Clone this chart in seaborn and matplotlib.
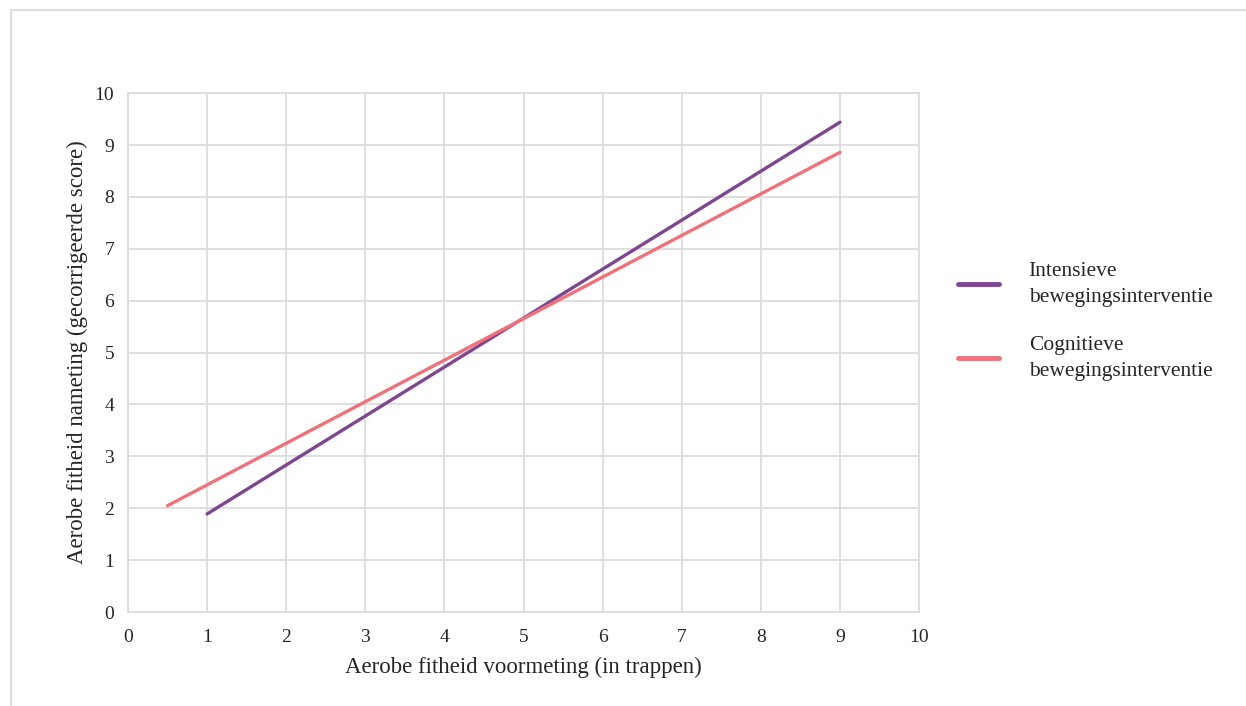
import pandas as pd
import matplotlib
matplotlib.use("Agg")
import matplotlib.pyplot as plt
from matplotlib.lines import Line2D
import seaborn as sns

# ===============================
# DATA
# ===============================
groups = ["Intensieve\nbewegingsinterventie", "Cognitieve\nbewegingsinterventie"]
x_intensief = [1, 9]
y_intensief = [1.89, 9.44]
x_cognitief = [0.5, 9]
y_cognitief = [2.05, 8.86]
colors = ["#7f4690", "#ef727a"]

df = pd.concat([
    pd.DataFrame({"voor": x_intensief, "na": y_intensief, "groep": groups[0]}),
    pd.DataFrame({"voor": x_cognitief, "na": y_cognitief, "groep": groups[1]}),
])

# ===============================
# PLOT
# ===============================
sns.set_style("white")
plt.rcParams["font.family"] = ["Liberation Serif", "DejaVu Serif"]

fig = plt.figure(figsize=(12.46, 7.06), dpi=100)
ax = fig.add_axes([0.1027, 0.1331, 0.635, 0.735])

sns.lineplot(data=df, x="voor", y="na", hue="groep", palette=colors,
             linewidth=2.4, ax=ax, legend=False)

ax.set_xlim(0, 10)
ax.set_ylim(0, 10)
ax.set_xticks(range(0, 11))
ax.set_yticks(range(0, 11))
ax.grid(True, color="#dcdcdc", linewidth=1.3)
ax.set_axisbelow(True)
for s in ax.spines.values():
    s.set_color("#dcdcdc")
    s.set_linewidth(1.3)
ax.tick_params(axis="x", length=0, labelsize=14, pad=12)
ax.tick_params(axis="y", length=0, labelsize=14, pad=10)
ax.set_xlabel("Aerobe fitheid voormeting (in trappen)", fontsize=16.5, labelpad=8)
ax.set_ylabel("Aerobe fitheid nameting (gecorrigeerde score)", fontsize=16.5, labelpad=5)

handles = [Line2D([], [], color=c, linewidth=3.5) for c in colors]
leg = fig.legend(handles, groups, loc="center left", bbox_to_anchor=(0.753, 0.545),
                 frameon=False, fontsize=15.5, handlelength=1.9, handletextpad=1.4,
                 labelspacing=1.35)
for t in leg.get_texts():
    t.set_linespacing(1.5)

# grijze rand links en boven
fig.add_artist(Line2D([0.0085, 0.0085], [0, 0.986], transform=fig.transFigure,
                      color="#dedede", linewidth=1.5))
fig.add_artist(Line2D([0.0085, 1], [0.986, 0.986], transform=fig.transFigure,
                      color="#dedede", linewidth=1.5))

fig.savefig("out.png", dpi=100)
